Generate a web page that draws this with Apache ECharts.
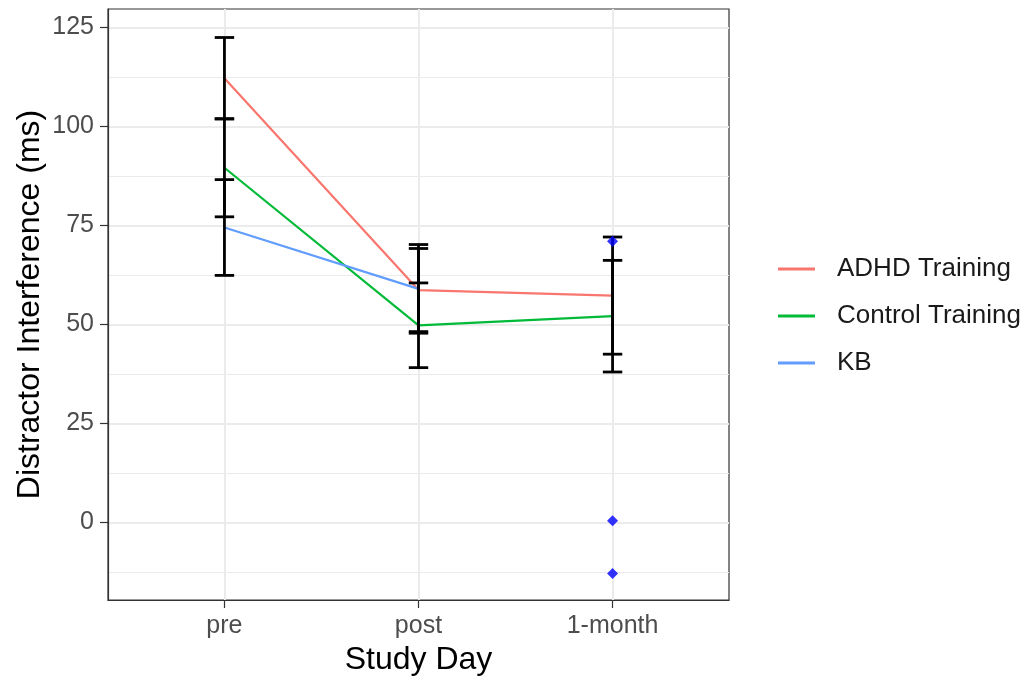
<!DOCTYPE html>
<html>
<head>
<meta charset="utf-8">
<script src="https://cdn.jsdelivr.net/npm/echarts@6/dist/echarts.min.js"></script>
<style>
  html, body { margin: 0; padding: 0; background: #fff; }
  #chart { width: 1027px; height: 681px; }
</style>
</head>
<body>
<div id="chart"></div>
<script>
// ---- data ----
const categories = ['pre', 'post', '1-month'];
const groups = ['ADHD Training', 'Control Training', 'KB'];
const adhdMean = [112.2, 58.7, 57.3];
const adhdErr = [10.3, 10.5, 14.8];
const controlMean = [89.6, 49.8, 52.1];
const controlErr = [12.4, 10.7, 14.1];
const kbMean = [74.5, 59.0, null];
const kbErr = [12.1, 11.2, null];
const kbPointsX = [2, 2, 2];
const kbPointsY = [71.0, 0.4, -12.9];
const yTicks = [0, 25, 50, 75, 100, 125];
const yMinorGrid = [-12.5, 12.5, 37.5, 62.5, 87.5, 112.5];

const colors = ['#F8766D', '#00BA38', '#619CFF'];
const FONT = "'Liberation Sans', Arial, Helvetica, sans-serif";

const means = [adhdMean, controlMean, kbMean];
const errs = [adhdErr, controlErr, kbErr];
const catIdx = categories.map((c, i) => i);

function lineData(m) {
  return catIdx.filter(i => m[i] != null).map(i => [i, m[i]]);
}
const errData = [];
means.forEach((m, g) => {
  catIdx.forEach(i => {
    if (m[i] != null) errData.push([i, m[i] - errs[g][i], m[i] + errs[g][i]]);
  });
});
const pointData = kbPointsX.map((x, i) => [x, kbPointsY[i]]);

const chart = echarts.init(document.getElementById('chart'), null, { renderer: 'canvas' });

const gridLines = [];
yMinorGrid.forEach(v => gridLines.push({ yAxis: v, lineStyle: { color: '#EBEBEB', width: 1, type: 'solid' } }));
yTicks.forEach(v => gridLines.push({ yAxis: v, lineStyle: { color: '#EBEBEB', width: 2, type: 'solid' } }));
catIdx.forEach(v => gridLines.push({ xAxis: v, lineStyle: { color: '#EBEBEB', width: 2, type: 'solid' } }));

const series = [
  {
    type: 'line', name: '_grid', data: [], silent: true, z: 0, zlevel: 0,
    markLine: { z: 0, silent: true, symbol: 'none', label: { show: false }, animation: false, data: gridLines }
  }
];
groups.forEach((g, k) => {
  series.push({
    type: 'line', name: g, data: lineData(means[k]),
    showSymbol: false, symbol: 'none',
    lineStyle: { color: colors[k], width: 2.2 },
    itemStyle: { color: colors[k] },
    z: 2, animation: false
  });
});
series.push({
  type: 'custom', name: '_err', data: errData, z: 3, animation: false,
  renderItem: function (params, api) {
    const x = api.value(0), lo = api.value(1), hi = api.value(2);
    const pLo = api.coord([x, lo]);
    const pHi = api.coord([x, hi]);
    const half = (api.coord([x + 0.05, lo])[0] - pLo[0]);
    const style = { stroke: '#000', lineWidth: 2.8 };
    return {
      type: 'group',
      children: [
        { type: 'line', shape: { x1: pLo[0], y1: pLo[1], x2: pHi[0], y2: pHi[1] }, style: style },
        { type: 'line', shape: { x1: pLo[0] - half, y1: pLo[1], x2: pLo[0] + half, y2: pLo[1] }, style: style },
        { type: 'line', shape: { x1: pHi[0] - half, y1: pHi[1], x2: pHi[0] + half, y2: pHi[1] }, style: style }
      ]
    };
  }
});
series.push({
  type: 'scatter', name: '_pts', data: pointData, symbol: 'diamond', symbolSize: 11,
  itemStyle: { color: '#0000FF' }, z: 4, animation: false
});

chart.setOption({
  animation: false,
  textStyle: { fontFamily: FONT },
  grid: { left: 108, right: 298, top: 9, bottom: 79, show: true, borderColor: '#333333', borderWidth: 1.2, backgroundColor: '#fff' },
  legend: {
    data: groups.map((g, k) => ({ name: g, itemStyle: { color: colors[k] } })),
    orient: 'vertical', left: 773, top: 249,
    icon: 'rect', itemWidth: 37, itemHeight: 3, itemGap: 17,
    textStyle: { fontFamily: FONT, fontSize: 26, color: '#1a1a1a', lineHeight: 30, padding: [0, 0, 0, 17] }
  },
  xAxis: {
    type: 'value', min: -0.6, max: 2.6,
    name: 'Study Day', nameLocation: 'middle', nameGap: 44, nameMoveOverlap: false,
    nameTextStyle: { fontFamily: FONT, fontSize: 32, color: '#000' },
    axisLine: { show: true, onZero: false, lineStyle: { color: '#333333', width: 1.2 } },
    axisTick: { show: true, length: 8, customValues: catIdx, lineStyle: { color: '#333333', width: 1.2 } },
    axisLabel: { customValues: catIdx, formatter: v => categories[Math.round(v)], fontFamily: FONT, fontSize: 25, color: '#4D4D4D', margin: 14 },
    splitLine: { show: false }
  },
  yAxis: {
    type: 'value', min: -19.6, max: 129.7,
    name: 'Distractor Interference (ms)', nameLocation: 'middle', nameGap: 62, nameMoveOverlap: false,
    nameTextStyle: { fontFamily: FONT, fontSize: 32, color: '#000' },
    axisLine: { show: true, onZero: false, lineStyle: { color: '#333333', width: 1.2 } },
    axisTick: { show: true, length: 8, customValues: yTicks, lineStyle: { color: '#333333', width: 1.2 } },
    axisLabel: { customValues: yTicks, fontFamily: FONT, fontSize: 25, color: '#4D4D4D', margin: 14 },
    splitLine: { show: false }
  },
  series: series
});
</script>
</body>
</html>
